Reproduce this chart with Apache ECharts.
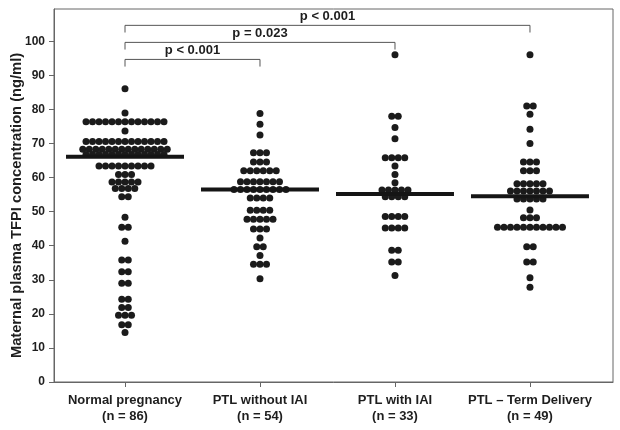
<!DOCTYPE html>
<html>
<head>
<meta charset="utf-8">
<script src="https://cdn.jsdelivr.net/npm/echarts@6/dist/echarts.min.js"></script>
<style>html,body{margin:0;padding:0;background:#fff}#c{width:620px;height:430px}</style>
</head>
<body>
<div id="c"></div>
<script>
// ---------- DATA ----------
const categories = ['Normal pregnancy', 'PTL without IAI', 'PTL with IAI', 'PTL \u2013 Term Delivery'];
const nLabels = ['(n = 86)', '(n = 54)', '(n = 33)', '(n = 49)'];
const yTicks = [0, 10, 20, 30, 40, 50, 60, 70, 80, 90, 100];

const normalPregnancy = [
  86.1, 79.0,
  76.4, 76.4, 76.4, 76.4, 76.4, 76.4, 76.4, 76.4, 76.4, 76.4, 76.4, 76.4, 76.4,
  73.7,
  70.6, 70.6, 70.6, 70.6, 70.6, 70.6, 70.6, 70.6, 70.6, 70.6, 70.6, 70.6, 70.6,
  68.3, 68.3, 68.3, 68.3, 68.3, 68.3, 68.3, 68.3, 68.3, 68.3, 68.3, 68.3, 68.3, 68.3,
  66.8, 66.8, 66.8, 66.8, 66.8, 66.8, 66.8, 66.8, 66.8, 66.8, 66.8, 66.8, 66.8,
  63.4, 63.4, 63.4, 63.4, 63.4, 63.4, 63.4, 63.4, 63.4,
  60.9, 60.9, 60.9,
  58.7, 58.7, 58.7, 58.7, 58.7,
  56.8, 56.8, 56.8, 56.8,
  54.4, 54.4,
  48.4, 45.4, 45.4, 41.3, 35.8, 35.8, 32.4, 32.4, 29.0, 29.0,
  24.3, 24.3, 21.9, 21.9, 19.6, 19.6, 19.6, 16.8, 16.8, 14.5
];
const ptlWithoutIAI = [
  78.8, 75.7, 72.5,
  67.3, 67.3, 67.3,
  64.6, 64.6, 64.6,
  62.0, 62.0, 62.0, 62.0, 62.0, 62.0,
  58.8, 58.8, 58.8, 58.8, 58.8, 58.8, 58.8,
  56.5, 56.5, 56.5, 56.5, 56.5, 56.5, 56.5, 56.5, 56.5,
  54.0, 54.0, 54.0, 54.0,
  50.4, 50.4, 50.4, 50.4,
  47.8, 47.8, 47.8, 47.8, 47.8,
  44.9, 44.9, 44.9,
  42.3, 39.7, 39.7, 37.1,
  34.6, 34.6, 34.6,
  30.3
];
const ptlWithIAI = [
  96.1,
  78.0, 78.0,
  74.7, 71.4,
  65.8, 65.8, 65.8, 65.8,
  63.4, 60.9, 58.5,
  56.4, 56.4, 56.4, 56.4, 56.4,
  54.4, 54.4, 54.4, 54.4,
  48.6, 48.6, 48.6, 48.6,
  45.2, 45.2, 45.2, 45.2,
  38.7, 38.7, 35.2, 35.2, 31.3
];
const ptlTermDelivery = [
  96.1,
  81.0, 81.0,
  78.6, 74.2, 70.0,
  64.6, 64.6, 64.6,
  62.0, 62.0, 62.0,
  58.2, 58.2, 58.2, 58.2, 58.2,
  56.1, 56.1, 56.1, 56.1, 56.1, 56.1, 56.1,
  53.7, 53.7, 53.7, 53.7, 53.7,
  50.5,
  48.2, 48.2, 48.2,
  45.4, 45.4, 45.4, 45.4, 45.4, 45.4, 45.4, 45.4, 45.4, 45.4, 45.4,
  39.7, 39.7, 35.2, 35.2, 30.6, 27.8
];
const groups = [normalPregnancy, ptlWithoutIAI, ptlWithIAI, ptlTermDelivery];
const medians = [66.1, 56.5, 55.2, 54.5];

// comparisons: [from group, to group, label]
const comparisons = [
  [0, 3, 'p < 0.001'],
  [0, 2, 'p = 0.023'],
  [0, 1, 'p < 0.001']
];

// ---------- LAYOUT / STYLE ----------
const FONT = '"Liberation Sans", Arial, sans-serif';
const TXT = '#1e1e1e';
const DOT = '#1b1b1b';
const DOT_SIZE = 7;
const DOT_STEP = 6.5;           // px between dot centres in a row
const MEDIAN_HALF = 0.437;      // half-width of the median bar in x-axis units
const bracketLevels = [104.7, 99.7, 94.7];
const bracketDrop = 2.1;
const labelRise = 2.7;

function swarm(values, gi) {
  const counts = {};
  values.forEach(v => { counts[v] = (counts[v] || 0) + 1; });
  const seen = {};
  return values.map(v => {
    const n = counts[v];
    const j = seen[v] = (seen[v] === undefined ? 0 : seen[v] + 1);
    return { value: [gi, v], symbolOffset: [(j - (n - 1) / 2) * DOT_STEP, 0] };
  });
}

const series = [];
groups.forEach((vals, gi) => {
  series.push({
    type: 'scatter', data: swarm(vals, gi), symbol: 'circle', symbolSize: DOT_SIZE,
    itemStyle: { color: DOT, opacity: 1 }, silent: true, z: 2
  });
});
medians.forEach((m, gi) => {
  series.push({
    type: 'line', data: [[gi - MEDIAN_HALF, m], [gi + MEDIAN_HALF, m]],
    symbol: 'none', lineStyle: { color: '#151515', width: 4 }, silent: true, z: 3
  });
});
comparisons.forEach((c, k) => {
  const lvl = bracketLevels[k];
  series.push({
    type: 'line',
    data: [[c[0], lvl - bracketDrop], [c[0], lvl], [c[1], lvl], [c[1], lvl - bracketDrop]],
    symbol: 'none', lineStyle: { color: '#555', width: 1 }, silent: true, z: 1
  });
  series.push({
    type: 'scatter', data: [[(c[0] + c[1]) / 2, lvl + labelRise]], symbolSize: 1,
    itemStyle: { color: 'rgba(0,0,0,0)', opacity: 1 }, silent: true, z: 4,
    label: { show: true, position: 'inside', formatter: c[2], color: TXT, opacity: 1,
      fontFamily: FONT, fontWeight: 'bold', fontSize: 13 }
  });
});

const chart = echarts.init(document.getElementById('c'), null, { renderer: 'canvas' });
chart.setOption({
  animation: false,
  backgroundColor: '#fff',
  grid: { left: 54, right: 7, top: 9, bottom: 48, show: true, borderColor: '#666', borderWidth: 1,
    containLabel: false, outerBoundsMode: 'none' },
  xAxis: {
    type: 'value', min: -0.526, max: 3.615,
    axisLine: { show: true, onZero: false, lineStyle: { color: '#666' } },
    axisTick: { show: true, length: 5, customValues: [0, 1, 2, 3], lineStyle: { color: '#666' } },
    axisLabel: {
      customValues: [0, 1, 2, 3], margin: 10, color: TXT, fontFamily: FONT, fontWeight: 'bold',
      fontSize: 13, lineHeight: 16,
      formatter: v => categories[Math.round(v)] + '\n' + nLabels[Math.round(v)]
    },
    splitLine: { show: false }
  },
  yAxis: {
    type: 'value', min: 0, max: 109.5,
    name: 'Maternal plasma TFPI concentration (ng/ml)', nameLocation: 'middle', nameGap: 30,
    nameMoveOverlap: false,
    nameTextStyle: { color: TXT, fontFamily: FONT, fontWeight: 'bold', fontSize: 14.7, padding: [0, 20, 0, 0] },
    axisLine: { show: true, onZero: false, lineStyle: { color: '#666' } },
    axisTick: { show: true, length: 5, customValues: yTicks, lineStyle: { color: '#666' } },
    axisLabel: { customValues: yTicks, margin: 9, color: TXT, fontFamily: FONT, fontWeight: 'bold', fontSize: 12 },
    splitLine: { show: false }
  },
  series: series
});
</script>
</body>
</html>
